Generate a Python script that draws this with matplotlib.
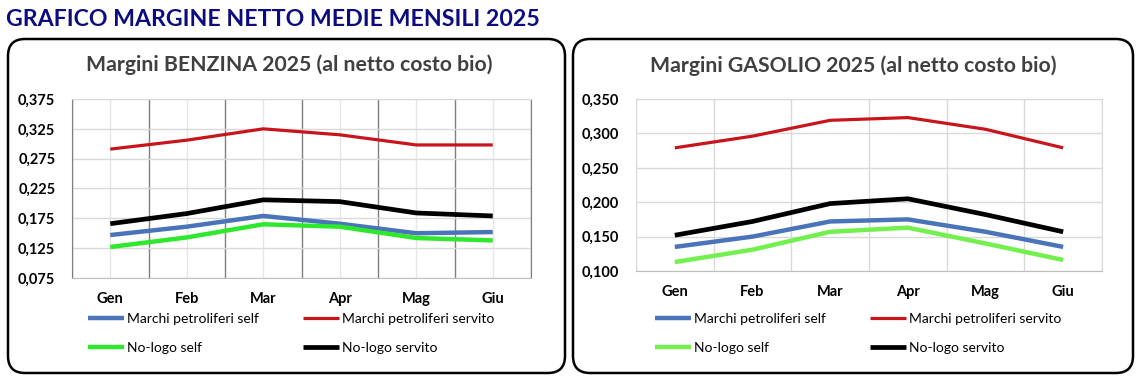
import matplotlib
matplotlib.use("Agg")
import matplotlib.pyplot as plt
from matplotlib.patches import FancyBboxPatch
from matplotlib.ticker import FuncFormatter, FixedLocator

plt.rcParams['font.family'] = ['Lato', 'DejaVu Sans']

# data
mesi = ['Gen', 'Feb', 'Mar', 'Apr', 'Mag', 'Giu']
serie = ['Marchi petroliferi self', 'No-logo self', 'Marchi petroliferi servito', 'No-logo servito']

benz_mp_self = [0.147, 0.161, 0.179, 0.166, 0.150, 0.152]
benz_nl_self = [0.127, 0.143, 0.165, 0.161, 0.142, 0.138]
benz_mp_serv = [0.291, 0.306, 0.325, 0.315, 0.298, 0.298]
benz_nl_serv = [0.166, 0.183, 0.206, 0.203, 0.184, 0.179]
benz_ticks = [0.075, 0.125, 0.175, 0.225, 0.275, 0.325, 0.375]

gas_mp_self = [0.135, 0.150, 0.172, 0.175, 0.157, 0.135]
gas_nl_self = [0.113, 0.131, 0.157, 0.163, 0.140, 0.116]
gas_mp_serv = [0.279, 0.296, 0.319, 0.323, 0.306, 0.279]
gas_nl_serv = [0.152, 0.172, 0.198, 0.205, 0.182, 0.157]
gas_ticks = [0.100, 0.150, 0.200, 0.250, 0.300, 0.350]

W, H = 1141, 381
fig = plt.figure(figsize=(W / 100, H / 100), dpi=100)

# pixel overlay for the rounded frames
bg = fig.add_axes([0, 0, 1, 1])
bg.set_xlim(0, W)
bg.set_ylim(H, 0)
bg.axis('off')
for x0, x1 in [(8, 565), (573, 1133)]:
    bg.add_patch(FancyBboxPatch((x0, 39), x1 - x0, 334,
                                boxstyle="round,pad=0,rounding_size=17",
                                fc='white', ec='black', lw=1.8))

def fx(px):
    return px / W

def fy(py):
    return 1 - py / H

fig.text(fx(6), fy(19), 'GRAFICO MARGINE NETTO MEDIE MENSILI 2025', color='#0c0c80',
         fontsize=16.7, fontweight='bold', ha='left', va='center')

comma = FuncFormatter(lambda v, p: f'{v:.3f}'.replace('.', ','))

def chart(rect, values, colors, title, title_xy, yticks, dark_grid, legend_x):
    l, t, r, b = rect
    ax = fig.add_axes([fx(l), fy(b), fx(r - l), (b - t) / H])
    x = range(len(mesi))
    for v, c, lw in zip(values, colors, [3.2, 3.2, 2.3, 3.4]):
        ax.plot(x, v, color=c, lw=lw, solid_capstyle='butt', zorder=3)
    ax.set_xlim(-0.5, len(mesi) - 0.5)
    ax.set_ylim(yticks[0], yticks[-1])
    ax.yaxis.set_major_locator(FixedLocator(yticks))
    ax.yaxis.set_major_formatter(comma)
    ax.set_xticks(list(x))
    ax.set_xticklabels(mesi)
    ax.xaxis.set_minor_locator(FixedLocator([i - 0.5 for i in range(len(mesi) + 1)]))
    ax.tick_params(axis='both', length=0, labelsize=10.5, pad=10)
    ax.tick_params(axis='y', pad=12)
    ax.tick_params(which='minor', length=0)
    for lab in ax.get_xticklabels() + ax.get_yticklabels():
        lab.set_fontweight('bold')
    ax.grid(axis='y', color='#d9d9d9', lw=1)
    if dark_grid:
        ax.grid(axis='x', which='major', color='#e6e6e6', lw=1)
        ax.grid(axis='x', which='minor', color='#7f7f7f', lw=1)
    else:
        ax.grid(axis='x', which='minor', color='#d9d9d9', lw=1)
    for s in ax.spines.values():
        s.set_color('#d9d9d9')
    if dark_grid:
        ax.spines['left'].set_color('#7f7f7f')
        ax.spines['right'].set_color('#7f7f7f')
    ax.spines['bottom'].set_color('#bfbfbf')
    fig.text(fx(title_xy[0]), fy(title_xy[1]), title, color='#404040', fontsize=15.3,
             fontweight='bold', ha='center', va='center')
    lines = ax.get_lines()
    ax.legend(lines, serie, ncol=2,
              loc='upper left', bbox_to_anchor=(fx(legend_x), fy(313)),
              bbox_transform=fig.transFigure, frameon=False, fontsize=10,
              handlelength=2.6, handletextpad=0.2, columnspacing=3.2,
              labelspacing=1.2, borderaxespad=0, borderpad=0)
    return ax

chart((72, 99, 531, 278),
      [benz_mp_self, benz_nl_self, benz_mp_serv, benz_nl_serv],
      ['#4a74b9', '#2ee82e', '#c8151b', '#000000'],
      'Margini BENZINA 2025 (al netto costo bio)', (289, 65),
      benz_ticks, True, 88)

chart((636, 99, 1102, 271),
      [gas_mp_self, gas_nl_self, gas_mp_serv, gas_nl_serv],
      ['#4a74b9', '#72f04e', '#c8151b', '#000000'],
      'Margini GASOLIO 2025 (al netto costo bio)', (853, 66),
      gas_ticks, False, 655)

fig.savefig('out.png', dpi=100)
